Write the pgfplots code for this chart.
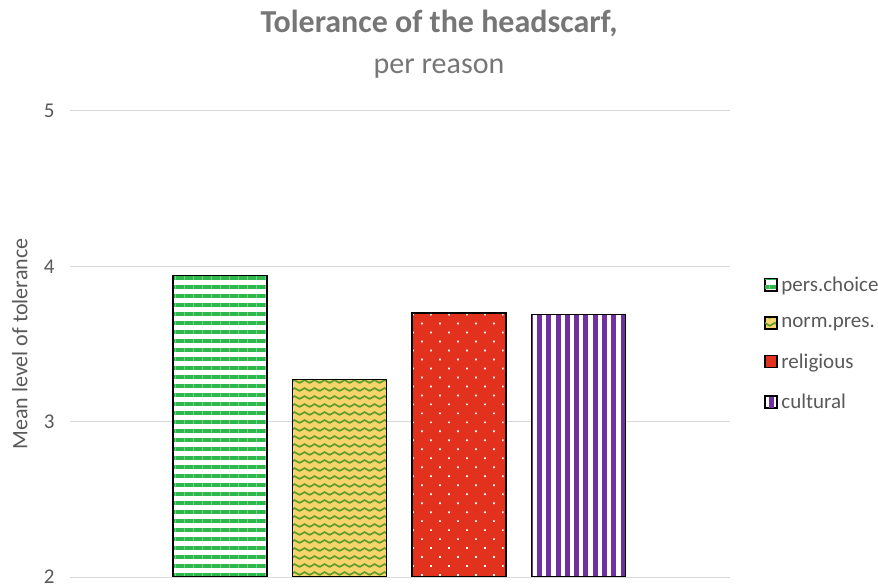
\documentclass[border=0pt]{standalone}
\usepackage{pgfplots}
\pgfplotsset{compat=1.18}
\usepackage{fontspec}
\setmainfont{Carlito}
\usetikzlibrary{patterns.meta}
\definecolor{cgreen}{HTML}{2EB84C}
\definecolor{cyellow}{HTML}{F5D46C}
\definecolor{czig}{HTML}{5A9B2C}
\definecolor{cred}{HTML}{E2311D}
\definecolor{cpurple}{HTML}{7030A0}
\definecolor{ctitle}{HTML}{767676}
\definecolor{ctext}{HTML}{595959}
\definecolor{cgrid}{HTML}{D9D9D9}
\pgfdeclarepattern{
  name=ZigZag,
  type=uncolored,
  bottom left={\pgfpoint{0bp}{0bp}},
  top right={\pgfpoint{10bp}{8bp}},
  tile size={\pgfpoint{10bp}{8bp}},
  code={
    \pgfsetlinewidth{1.8bp}
    \pgfpathmoveto{\pgfpoint{-5bp}{5.5bp}}
    \pgfpathlineto{\pgfpoint{0bp}{2.5bp}}
    \pgfpathlineto{\pgfpoint{5bp}{5.5bp}}
    \pgfpathlineto{\pgfpoint{10bp}{2.5bp}}
    \pgfpathlineto{\pgfpoint{15bp}{5.5bp}}
    \pgfusepath{stroke}
  }
}
\pgfplotstableread{
x y
0 3.94
}\perschoice
\pgfplotstableread{
x y
1 3.27
}\normpres
\pgfplotstableread{
x y
2 3.70
}\religious
\pgfplotstableread{
x y
3 3.69
}\cultural
\begin{document}
\begin{tikzpicture}
\useasboundingbox (-70bp,-7bp) rectangle (808bp,577bp);
\begin{axis}[
  at={(0,0)}, anchor=south west,
  scale only axis, width=660bp, height=466bp,
  xmin=-1.255, xmax=4.268, ymin=2, ymax=5,
  ybar, bar width=0.787, bar shift=0pt,
  xtick=\empty, ytick={2,3,4,5},
  ymajorgrids, grid style={cgrid, line width=1bp},
  axis line style={draw=none},
  major tick length=0pt,
  /pgf/number format/assume math mode=true,
  yticklabel style={font=\fontsize{21bp}{24bp}\selectfont, text=ctext, xshift=-12bp},
  ylabel={Mean level of tolerance},
  ylabel style={font=\fontsize{22bp}{25bp}\selectfont, text=ctext, at={(axis description cs:-0.076,0.5)}, anchor=center},
  legend style={at={(axis description cs:1.0515,0.501)}, anchor=west, draw=none, fill=none,
    font=\fontsize{21bp}{24bp}\selectfont, text=ctext, row sep=20.5bp, inner sep=0pt,
    /tikz/every odd column/.append style={column sep=2bp}},
  legend cell align=left,
  legend image code/.code={\draw[#1, line width=1.2bp] (0bp,-6bp) rectangle (12bp,6bp);},
  every axis plot/.append style={draw=black, line width=1.5bp},
]
\addplot[preaction={fill=white}, pattern={Lines[distance=9bp, line width=3.9bp, angle=0]}, pattern color=cgreen] table[x=x,y=y] {\perschoice};
\addlegendentry{pers.choice}
\addplot[preaction={fill=cyellow}, pattern=ZigZag, pattern color=czig] table[x=x,y=y] {\normpres};
\addlegendentry{norm.pres.}
\addplot[preaction={fill=cred}, pattern={Dots[distance=12.7bp, angle=45, radius=1.2bp]}, pattern color=white] table[x=x,y=y] {\religious};
\addlegendentry{religious}
\addplot[preaction={fill=white}, pattern={Lines[distance=9.3bp, line width=5bp, angle=90]}, pattern color=cpurple] table[x=x,y=y] {\cultural};
\addlegendentry{cultural}
\end{axis}
\node[anchor=base, text=ctitle, font=\fontsize{32bp}{36bp}\selectfont\bfseries] at (369bp,544bp) {Tolerance of the headscarf,};
\node[anchor=base, text=ctitle, font=\fontsize{30bp}{34bp}\selectfont] at (369bp,503bp) {per reason};
\end{tikzpicture}
\end{document}
